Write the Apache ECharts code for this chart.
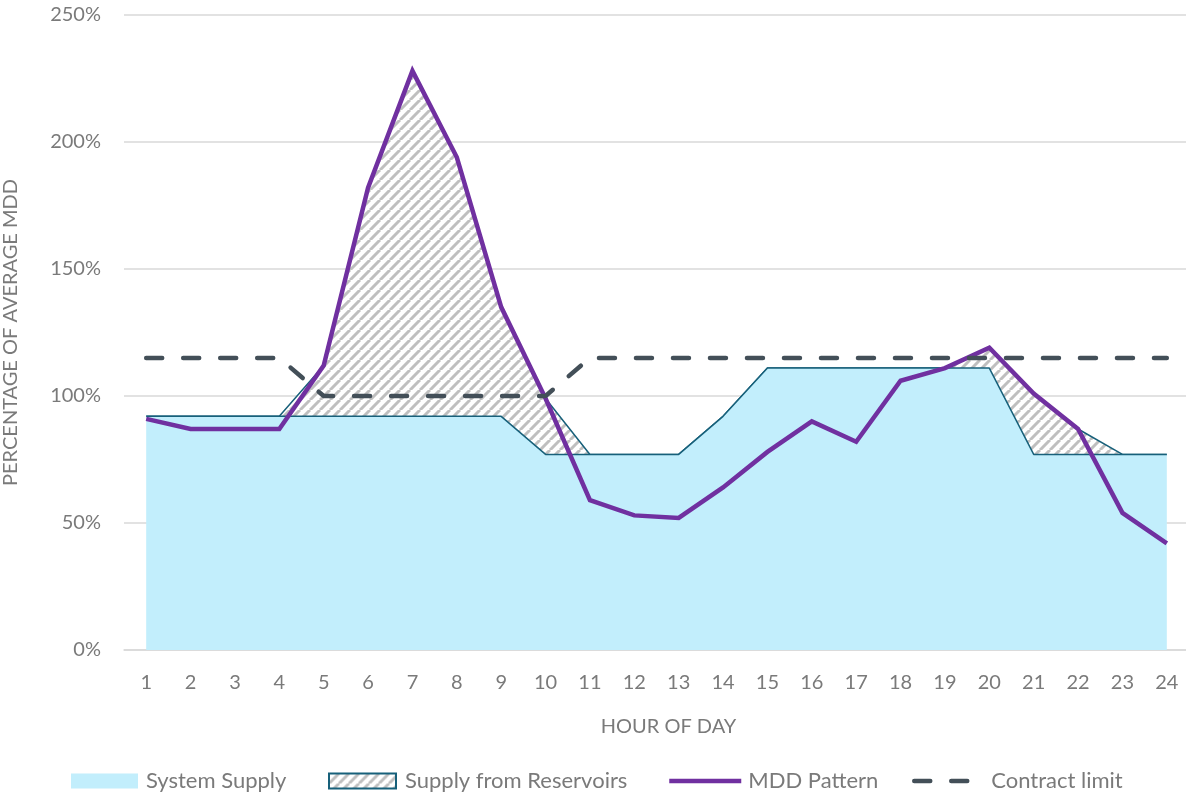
<!DOCTYPE html>
<html>
<head>
<meta charset="utf-8">
<title>Hourly demand vs. supply</title>
<script src="https://cdn.jsdelivr.net/npm/echarts@6/dist/echarts.min.js"></script>
<style>
  html, body { margin: 0; padding: 0; background: #ffffff; }
  #chart { width: 1186px; height: 801px; }
</style>
</head>
<body>
<div id="chart"></div>
<script>
// Hour of day (category axis)
const hours = ['1','2','3','4','5','6','7','8','9','10','11','12','13','14','15','16','17','18','19','20','21','22','23','24'];

// Percentage of average MDD
const systemSupply = [92, 92, 92, 92, 92, 92, 92, 92, 92, 77, 77, 77, 77, 92, 111, 111, 111, 111, 111, 111, 77, 77, 77, 77];
const reservoirSupply = [0, 0, 0, 0, 20, 90, 136, 102, 43, 22, 0, 0, 0, 0, 0, 0, 0, 0, 0, 8, 24, 10, 0, 0];
const mddPattern = [91, 87, 87, 87, 112, 182, 228, 194, 135, 99, 59, 53, 52, 64, 78, 90, 82, 106, 111, 119, 101, 87, 54, 42];
const contractLimit = [115, 115, 115, 115, 100, 100, 100, 100, 100, 100, 115, 115, 115, 115, 115, 115, 115, 115, 115, 115, 115, 115, 115, 115];

// Y-axis ticks
const yMin = 0, yMax = 250, yStep = 50;

const FONT = 'Lato';
const TEXT_COLOR = '#7a7a7a';
const TEAL = '#17607a';
const PURPLE = '#7030a0';
const SLATE = '#434f58';
const DASH = [16, 21];

// Diagonal hatch tile for the reservoir band
function makeHatch() {
  const s = 10;
  const c = document.createElement('canvas');
  c.width = s; c.height = s;
  const g = c.getContext('2d');
  g.fillStyle = '#ffffff';
  g.fillRect(0, 0, s, s);
  g.strokeStyle = '#bfbfbf';
  g.lineWidth = 3;
  g.beginPath();
  for (const k of [-s, 0, s]) {
    g.moveTo(k, s);
    g.lineTo(k + s, 0);
  }
  g.stroke();
  return c;
}
const hatch = { image: makeHatch(), repeat: 'repeat' };

function legendAt(left, width, textPad, item) {
  return {
    left: left, top: 770, padding: 0, itemWidth: width, itemHeight: 15,
    selectedMode: false,
    textStyle: { fontFamily: FONT, fontSize: 22, color: TEXT_COLOR, padding: [0, 0, 0, textPad] },
    data: [item]
  };
}

const chart = echarts.init(document.getElementById('chart'), null, { renderer: 'canvas' });

chart.setOption({
  backgroundColor: '#ffffff',
  animation: false,
  grid: { left: 124, top: 15, width: 1065, height: 635, containLabel: false, outerBoundsMode: 'none' },
  legend: [
    legendAt(71, 67, 3, { name: 'System Supply', icon: 'rect', itemStyle: { color: '#c2eefc', borderWidth: 0 } }),
    legendAt(328, 67, 4, { name: 'Supply from Reservoirs', icon: 'rect', itemStyle: { color: hatch, borderColor: TEAL, borderWidth: 2 } }),
    legendAt(667, 72, 2, { name: 'MDD Pattern', itemStyle: { opacity: 0 }, lineStyle: { color: PURPLE, width: 4.5 } }),
    legendAt(912, 58, 14, { name: 'Contract limit', itemStyle: { opacity: 0 }, lineStyle: { color: SLATE, width: 4.5, type: DASH, cap: 'round' } })
  ],
  xAxis: {
    type: 'category',
    data: hours,
    boundaryGap: true,
    axisLine: { show: true, lineStyle: { color: '#d9d9d9', width: 1.5 } },
    axisTick: { show: false },
    axisLabel: { fontFamily: FONT, fontSize: 20, color: TEXT_COLOR, margin: 23 },
    name: 'HOUR OF DAY',
    nameLocation: 'middle',
    nameGap: 67,
    nameTextStyle: { fontFamily: FONT, fontSize: 20, color: TEXT_COLOR, padding: [0, 0, 0, 24] }
  },
  yAxis: {
    type: 'value',
    min: yMin, max: yMax, interval: yStep,
    axisLine: { show: false },
    axisTick: { show: false },
    splitLine: { show: true, lineStyle: { color: '#d9d9d9', width: 1.5 } },
    axisLabel: { fontFamily: FONT, fontSize: 20, color: TEXT_COLOR, margin: 23, formatter: '{value}%' },
    name: 'PERCENTAGE OF AVERAGE MDD',
    nameLocation: 'middle',
    nameGap: 103,
    nameTextStyle: { fontFamily: FONT, fontSize: 20, color: TEXT_COLOR }
  },
  series: [
    {
      name: 'System Supply', type: 'line', stack: 'supply', data: systemSupply,
      symbol: 'none', z: 3,
      lineStyle: { color: TEAL, width: 1.5 },
      itemStyle: { color: '#c2eefc' },
      areaStyle: { color: '#c2eefc', opacity: 1 }
    },
    {
      name: 'Supply from Reservoirs', type: 'line', stack: 'supply', data: reservoirSupply,
      symbol: 'none', z: 2,
      lineStyle: { color: TEAL, width: 1.5 },
      itemStyle: { color: '#bfbfbf' },
      areaStyle: { color: hatch, opacity: 1 }
    },
    {
      name: 'MDD Pattern', type: 'line', data: mddPattern,
      symbol: 'none', z: 4,
      itemStyle: { color: PURPLE },
      lineStyle: { color: PURPLE, width: 4.5, join: 'miter' }
    },
    {
      name: 'Contract limit', type: 'line', data: contractLimit,
      symbol: 'none', z: 5,
      itemStyle: { color: SLATE },
      lineStyle: { color: SLATE, width: 4.5, type: DASH, cap: 'round' }
    }
  ]
});
</script>
</body>
</html>
